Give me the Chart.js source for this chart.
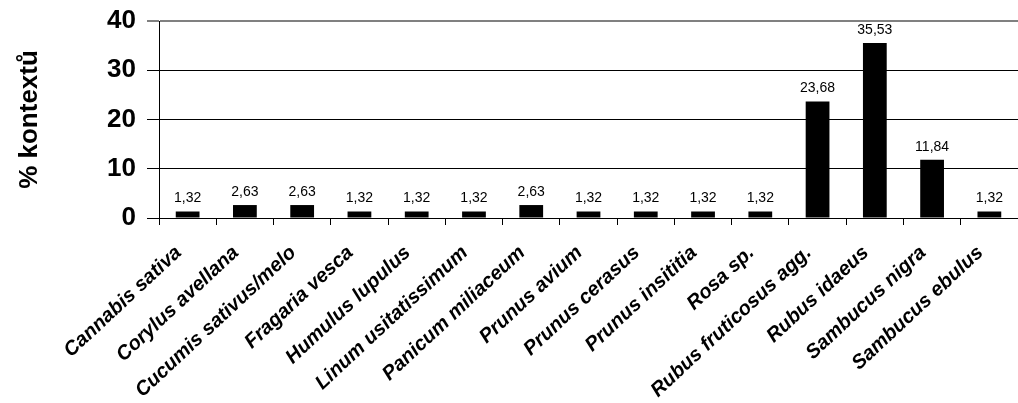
<!DOCTYPE html>
<html>
<head>
<meta charset="utf-8">
<script src="https://cdn.jsdelivr.net/npm/chart.js@4/dist/chart.umd.min.js"></script>
<style>
    html, body { margin: 0; padding: 0; background: #fff; }
    #wrap { width: 1018px; height: 403px; }
</style>
</head>
<body>
<div id="wrap"><canvas id="chart" width="1018" height="403"></canvas></div>
<script>
// taxa (x categories)
const taxa = [
    'Cannabis sativa', 'Corylus avellana', 'Cucumis sativus/melo', 'Fragaria vesca',
    'Humulus lupulus', 'Linum usitatissimum', 'Panicum miliaceum', 'Prunus avium',
    'Prunus cerasus', 'Prunus insititia', 'Rosa sp.', 'Rubus fruticosus agg.',
    'Rubus idaeus', 'Sambucus nigra', 'Sambucus ebulus'
];

// % of contexts
const percentContexts = [1.32, 2.63, 2.63, 1.32, 1.32, 1.32, 2.63, 1.32, 1.32, 1.32, 1.32, 23.68, 35.53, 11.84, 1.32];

const yTicks = [0, 10, 20, 30, 40];

/**
 * Writes the value above each bar, with a decimal comma.
 */
const barValueLabels = {
    id: 'barValueLabels',
    afterDatasetsDraw(chart) {
        const ctx = chart.ctx;
        const meta = chart.getDatasetMeta(0);
        ctx.save();
        ctx.font = '14px "Liberation Sans", Arial, sans-serif';
        ctx.fillStyle = '#000';
        ctx.textAlign = 'center';
        ctx.textBaseline = 'alphabetic';
        meta.data.forEach((bar, i) => {
            const txt = percentContexts[i].toFixed(2).replace('.', ',');
            ctx.fillText(txt, bar.x, bar.y - 9);
        });
        ctx.restore();
    }
};

new Chart(document.getElementById('chart').getContext('2d'), {
    type: 'bar',
    data: {
        labels: taxa,
        datasets: [{
            data: percentContexts,
            backgroundColor: '#000',
            borderWidth: 0,
            categoryPercentage: 1,
            barPercentage: 0.415
        }]
    },
    options: {
        responsive: false,
        animation: false,
        layout: { padding: { top: 21, right: -8, left: 0, bottom: 0 } },
        plugins: {
            legend: { display: false },
            tooltip: { enabled: false }
        },
        scales: {
            x: {
                grid: {
                    drawOnChartArea: false,
                    drawTicks: true,
                    tickLength: 7,
                    color: '#000',
                    offset: true
                },
                border: { color: '#000', width: 1 },
                ticks: {
                    color: '#000',
                    autoSkip: false,
                    minRotation: 43,
                    maxRotation: 43,
                    padding: 16,
                    labelOffset: -9,
                    font: { family: '"Liberation Sans", Arial, sans-serif', size: 20, weight: 'bold', style: 'italic' }
                },
                afterFit(scale) {
                    scale.height = 185;
                    scale.paddingRight = 0;
                    scale.paddingLeft = 0;
                }
            },
            y: {
                min: 0,
                max: 40,
                afterBuildTicks(scale) { scale.ticks = yTicks.map(v => ({ value: v })); },
                grid: {
                    color: (c) => (c.tick && c.tick.value === 40 ? '#808080' : '#000'),
                    tickLength: 12,
                    lineWidth: (c) => (c.tick && c.tick.value === 40 ? 2 : 1)
                },
                border: { color: '#000', width: 1 },
                ticks: {
                    color: '#000',
                    padding: 11,
                    font: { family: '"Liberation Sans", Arial, sans-serif', size: 26, weight: 'bold' }
                },
                title: {
                    display: true,
                    text: '% kontextů',
                    color: '#000',
                    padding: { top: 14, bottom: 0 },
                    font: { family: '"Liberation Sans", Arial, sans-serif', size: 26, weight: 'bold' }
                },
                afterFit(scale) {
                    scale.width = 159;
                    scale.paddingTop = 0;
                    scale.paddingBottom = 0;
                }
            }
        }
    },
    plugins: [barValueLabels]
});
</script>
</body>
</html>
